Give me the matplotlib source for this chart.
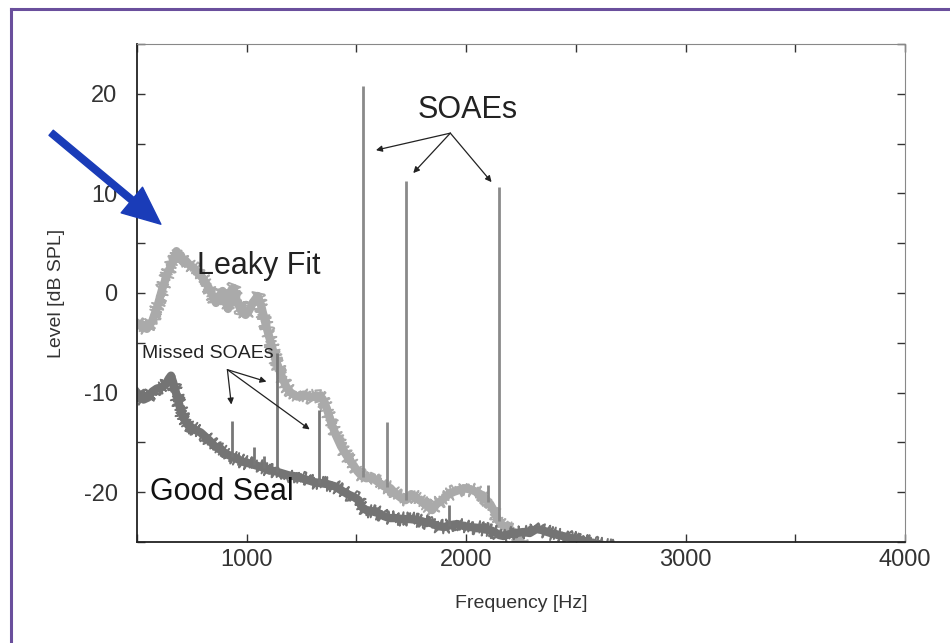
import numpy as np
import matplotlib.pyplot as plt
from matplotlib.lines import Line2D
from matplotlib.patches import FancyArrowPatch

plt.rcParams['font.family'] = ['Liberation Sans', 'DejaVu Sans']

# Leaky Fit spectrum (band centre, dB SPL)
leaky_f = [500, 520, 545, 570, 595, 615, 640, 660, 672, 680, 690, 700, 710, 720, 740, 760, 780, 800,
           825, 845, 860, 875, 890, 905, 915, 930, 940, 955, 975, 995, 1010, 1030, 1050,
           1065, 1085, 1100, 1120, 1140, 1160, 1180, 1200, 1230, 1260, 1290, 1320, 1345,
           1365, 1385, 1405, 1430, 1455, 1480, 1505, 1525, 1545, 1570, 1600, 1625, 1655,
           1680, 1705, 1725, 1750, 1775, 1800, 1825, 1845, 1865, 1890, 1915, 1940, 1965,
           1990, 2015, 2040, 2065, 2090, 2110, 2130, 2145, 2160, 2180, 2205, 2230, 2250, 2265]
leaky_db = [-3.0, -3.3, -3.6, -2.8, -1.2, 0.4, 2.0, 3.0, 3.4, 4.2, 3.5, 3.8, 3.1, 3.3, 2.8, 2.5, 1.9, 1.5,
            0.6, -0.3, -1.0, -0.4, 0.2, -1.0, -1.6, 0.3, 0.5, -0.8, -1.8, -2.2, -1.8, -0.9, -0.3,
            -1.2, -3.0, -4.2, -5.8, -7.2, -8.4, -9.4, -10.0, -10.4, -10.2, -10.5, -10.3, -10.6,
            -11.6, -13.0, -14.2, -15.4, -16.3, -17.1, -17.9, -18.4, -18.6, -18.5, -19.0, -19.4, -19.6,
            -20.2, -20.6, -20.8, -20.2, -20.6, -21.0, -21.4, -21.8, -21.2, -20.8, -20.3, -20.0, -19.8,
            -19.6, -19.7, -19.9, -20.2, -20.7, -21.2, -22.0, -22.8, -23.2, -23.5, -23.8, -24.3, -25.0, -25.8]
leaky_peak_f = [1530, 1640, 1727, 2101, 2148]
leaky_peak_db = [20.8, -13.0, 11.2, -19.3, 10.6]

# Good Seal spectrum
seal_f = [500, 515, 530, 550, 570, 590, 610, 630, 645, 655, 665, 680, 695, 710, 730, 750,
          770, 790, 810, 830, 850, 870, 890, 910, 930, 950, 970, 990, 1010, 1040, 1070, 1100,
          1130, 1160, 1190, 1220, 1250, 1280, 1310, 1340, 1370, 1400, 1430, 1460, 1490, 1510,
          1525, 1545, 1570, 1600, 1625, 1650, 1680, 1710, 1745, 1780, 1810, 1840, 1870, 1900,
          1930, 1960, 1990, 2020, 2060, 2100, 2130, 2150, 2170, 2200, 2230, 2260, 2290, 2320,
          2345, 2370, 2400, 2440, 2480, 2520, 2560, 2600, 2650, 2700]
seal_db = [-10.0, -10.4, -10.7, -10.5, -9.9, -9.6, -9.5, -9.2, -8.6, -8.3, -9.0, -10.2, -11.4, -12.5, -13.2, -13.5,
           -13.8, -14.0, -14.4, -14.8, -15.3, -15.6, -15.9, -16.2, -16.4, -16.6, -16.8, -17.0, -17.1, -17.3, -17.5, -17.8,
           -17.9, -18.1, -18.3, -18.4, -18.6, -18.8, -19.0, -19.1, -19.2, -19.4, -19.8, -20.2, -20.5, -20.8,
           -21.5, -21.8, -21.9, -22.1, -22.4, -22.6, -22.6, -22.7, -22.7, -22.8, -23.0, -23.1, -23.4, -23.5,
           -23.3, -23.2, -23.4, -23.5, -23.6, -23.8, -24.0, -24.3, -24.4, -24.2, -24.1, -24.0, -24.1, -23.7,
           -23.8, -24.0, -24.2, -24.4, -24.6, -24.8, -25.0, -25.2, -25.4, -25.6]
seal_peak_f = [935, 1031, 1077, 1136, 1328, 1923]
seal_peak_db = [-12.9, -15.5, -16.4, -6.0, -11.7, -21.3]

fig = plt.figure(figsize=(9.5, 6.43), dpi=100)
ax = fig.add_axes([0.1442, 0.1571, 0.8084, 0.7745])

leaky_col = '#aaaaaa'
seal_col = '#747474'

# solid core of each noisy band, plus a jagged thin overlay for the noise fringe
ax.plot(leaky_f, leaky_db, color=leaky_col, lw=6, solid_joinstyle='round')
fringe, = ax.plot(leaky_f, leaky_db, color=leaky_col, lw=1.4)
fringe.set_sketch_params(7, 1.5, 2)
ax.plot(seal_f, seal_db, color=seal_col, lw=6, solid_joinstyle='round')
fringe, = ax.plot(seal_f, seal_db, color=seal_col, lw=1.4)
fringe.set_sketch_params(7, 1.5, 2)
ax.vlines(leaky_peak_f, np.interp(leaky_peak_f, leaky_f, leaky_db), leaky_peak_db,
          color='#8a8a8a', lw=2)
ax.vlines(seal_peak_f, np.interp(seal_peak_f, seal_f, seal_db), seal_peak_db,
          color='#777777', lw=2)

ax.set_xlim(500, 4000)
ax.set_ylim(-25, 25)
ax.set_xticks([500, 1000, 1500, 2000, 2500, 3000, 3500, 4000])
ax.set_xticklabels(['', '1000', '', '2000', '', '3000', '', '4000'])
ax.set_yticks([-25, -20, -15, -10, -5, 0, 5, 10, 15, 20, 25])
ax.set_yticklabels(['', '-20', '', '-10', '', '0', '', '10', '', '20', ''])
ax.tick_params(direction='in', length=6, width=1, labelsize=17, top=True, right=True,
               colors='#333333')
ax.tick_params(axis='y', pad=14)
ax.tick_params(axis='x', pad=5)
for s in ['top', 'right']:
    ax.spines[s].set_color('#888888')
for s in ['bottom', 'left']:
    ax.spines[s].set_color('#222222')
    ax.spines[s].set_linewidth(1.3)
for t in ax.xaxis.get_ticklines()[1::2] + ax.yaxis.get_ticklines()[1::2]:
    t.set_color('#888888')

ax.set_xlabel('Frequency [Hz]', fontsize=14, color='#333333')
ax.set_ylabel('Level [dB SPL]', fontsize=14, color='#333333')
ax.xaxis.set_label_coords(0.5, -0.106)
ax.yaxis.set_label_coords(-0.094, 0.5)

ax.text(2006, 18.4, 'SOAEs', fontsize=22, ha='center', va='center', color='#222222')
ax.text(775, 2.7, 'Leaky Fit', fontsize=22, ha='left', va='center', color='#222222')
ax.text(560, -20.0, 'Good Seal', fontsize=22, ha='left', va='center', color='#111111')
ax.text(523, -6.1, 'Missed SOAEs', fontsize=14, ha='left', va='center', color='#222222')

arrow_kw = dict(arrowstyle='-|>', color='#222222', lw=0.9, mutation_scale=9, shrinkA=0, shrinkB=0)
for tip in [(1589, 14.34), (1759, 12.04), (2116, 11.13)]:
    ax.annotate('', xy=tip, xytext=(1928, 16.05), arrowprops=arrow_kw)
for tip in [(930, -11.2), (1090, -8.9), (1287, -13.7)]:
    ax.annotate('', xy=tip, xytext=(912, -7.7), arrowprops=arrow_kw)

# blue pointer arrow (figure coords)
fig.add_artist(FancyArrowPatch(
    (49 / 950, 1 - 131 / 643), (163 / 950, 1 - 226 / 643), transform=fig.transFigure,
    arrowstyle='simple,head_length=1.7,head_width=1.5,tail_width=0.3',
    mutation_scale=16, color='#1a3cb8'))

# purple frame
fig.add_artist(Line2D([11 / 950, 11 / 950], [0, 1 - 9 / 643], transform=fig.transFigure,
                      color='#6a4f9c', lw=2.2))
fig.add_artist(Line2D([11 / 950, 1], [1 - 9 / 643, 1 - 9 / 643], transform=fig.transFigure,
                      color='#6a4f9c', lw=2.2))

fig.savefig('out.png', dpi=100)
